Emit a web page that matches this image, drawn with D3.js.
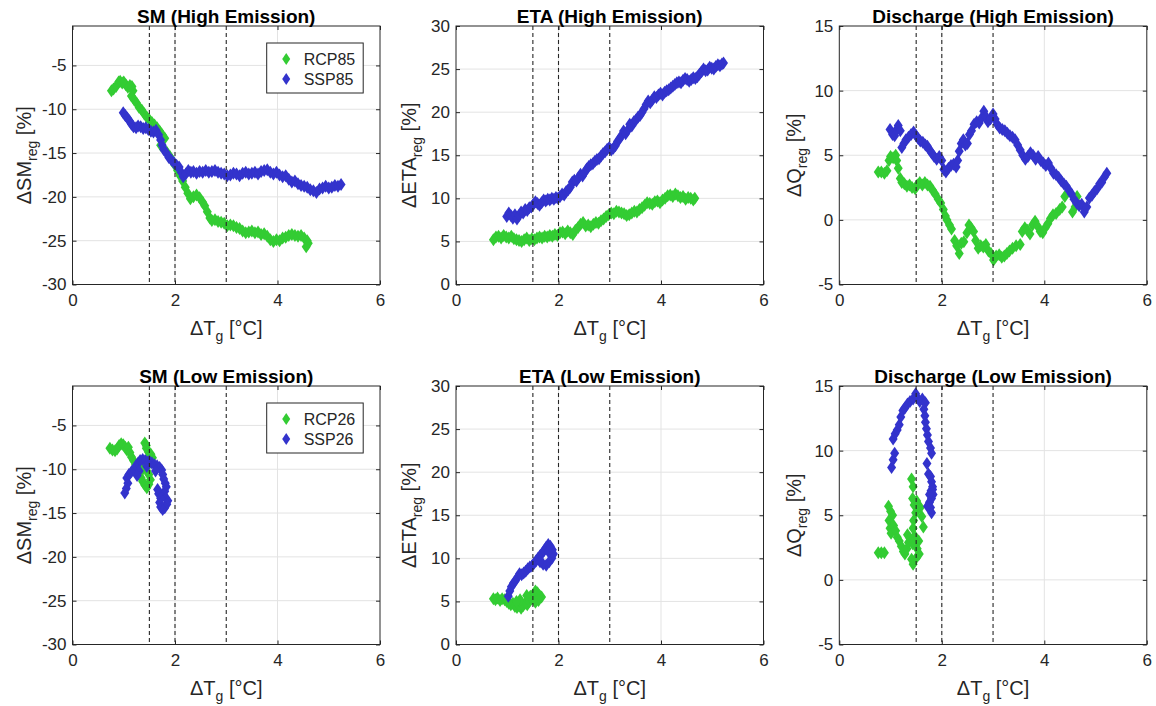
<!DOCTYPE html>
<html><head><meta charset="utf-8">
<script src="https://cdn.jsdelivr.net/npm/d3@7"></script>
<style>body{margin:0;background:#fff} text{font-family:"Liberation Sans",Arial,Helvetica,sans-serif;fill:#262626}</style>
</head><body><svg id="c" width="1156" height="706"></svg>
<script>
// ---------- tick labels / reference lines ----------
const xTicks = [0, 2, 4, 6];
const refLines = [1.5, 2, 3];
const smTicks = [-30, -25, -20, -15, -10, -5];
const etaTicks = [0, 5, 10, 15, 20, 25, 30];
const qTicks = [-5, 0, 5, 10, 15];
const legendHigh = ["RCP85", "SSP85"];
const legendLow = ["RCP26", "SSP26"];
const titles = ["SM (High Emission)", "ETA (High Emission)", "Discharge (High Emission)",
                "SM (Low Emission)", "ETA (Low Emission)", "Discharge (Low Emission)"];

// ---------- series: [ΔTg, value] ----------
const smRCP85 = [[0.76,-7.9],[0.80,-7.7],[0.85,-7.4],[0.90,-6.9],[0.93,-6.8],[0.97,-7.0],[1.00,-6.9],[1.04,-7.2],[1.08,-7.5],[1.12,-7.3],[1.16,-7.4],[1.18,-7.9],[1.15,-8.5],[1.20,-8.9],[1.25,-9.3],[1.30,-9.8],[1.35,-10.1],[1.40,-10.5],[1.45,-10.9],[1.50,-11.2],[1.55,-11.5],[1.60,-11.8],[1.65,-12.1],[1.70,-12.5],[1.75,-12.9],[1.80,-13.3],[1.72,-14.1],[1.78,-14.5],[1.84,-14.9],[1.90,-15.4],[1.95,-15.9],[2.00,-16.4],[2.05,-17.0],[2.10,-17.6],[2.15,-18.2],[2.20,-18.9],[2.25,-19.6],[2.30,-20.2],[2.36,-20.0],[2.42,-19.8],[2.48,-20.1],[2.54,-20.6],[2.58,-21.0],[2.63,-21.7],[2.68,-22.4],[2.72,-22.7],[2.78,-22.6],[2.84,-22.8],[2.90,-22.9],[2.96,-23.0],[3.02,-23.3],[3.08,-23.2],[3.14,-23.3],[3.20,-23.5],[3.26,-23.6],[3.32,-23.9],[3.38,-24.1],[3.44,-24.0],[3.50,-23.9],[3.56,-24.1],[3.62,-24.0],[3.68,-24.3],[3.74,-24.2],[3.80,-24.5],[3.86,-24.9],[3.92,-25.1],[3.98,-24.9],[4.04,-25.0],[4.10,-24.7],[4.16,-24.6],[4.22,-24.4],[4.28,-24.3],[4.34,-24.4],[4.40,-24.5],[4.46,-24.4],[4.52,-24.7],[4.58,-25.0],[4.60,-25.3],[4.56,-25.7]];
const smSSP85 = [[0.99,-10.4],[1.03,-10.7],[1.07,-11.0],[1.11,-11.3],[1.15,-11.7],[1.19,-12.0],[1.24,-12.1],[1.28,-11.9],[1.33,-12.0],[1.38,-12.2],[1.43,-12.1],[1.48,-12.3],[1.53,-12.5],[1.58,-12.6],[1.63,-12.4],[1.68,-12.9],[1.72,-13.5],[1.75,-14.1],[1.78,-14.6],[1.83,-15.0],[1.88,-15.5],[1.93,-15.8],[1.98,-16.1],[2.03,-16.4],[2.08,-16.6],[2.12,-17.2],[2.16,-17.7],[2.21,-17.4],[2.26,-17.0],[2.31,-17.2],[2.36,-17.1],[2.42,-17.3],[2.48,-17.1],[2.54,-17.2],[2.60,-17.0],[2.66,-17.2],[2.72,-17.1],[2.78,-17.0],[2.84,-17.2],[2.90,-17.3],[2.96,-17.4],[3.02,-17.6],[3.08,-17.5],[3.14,-17.3],[3.20,-17.4],[3.26,-17.6],[3.32,-17.3],[3.38,-17.2],[3.44,-17.4],[3.50,-17.3],[3.56,-17.2],[3.62,-17.4],[3.68,-17.1],[3.74,-17.0],[3.80,-16.9],[3.86,-17.2],[3.92,-17.4],[3.98,-17.2],[4.04,-17.5],[4.10,-17.7],[4.16,-17.6],[4.22,-18.0],[4.28,-18.3],[4.34,-18.2],[4.40,-18.5],[4.46,-18.7],[4.52,-18.8],[4.58,-18.9],[4.64,-19.2],[4.70,-19.3],[4.76,-19.5],[4.82,-19.1],[4.88,-19.0],[4.94,-18.8],[5.00,-19.0],[5.06,-18.9],[5.12,-18.7],[5.18,-18.8],[5.24,-18.6]];
const etaRCP85 = [[0.73,5.2],[0.78,5.5],[0.83,5.6],[0.88,5.4],[0.93,5.7],[0.98,5.5],[1.03,5.4],[1.08,5.6],[1.13,5.3],[1.18,5.2],[1.23,5.1],[1.28,5.0],[1.33,5.2],[1.38,5.4],[1.43,5.1],[1.48,5.3],[1.53,5.2],[1.58,5.4],[1.63,5.5],[1.68,5.4],[1.73,5.6],[1.78,5.5],[1.83,5.7],[1.88,5.6],[1.93,5.8],[1.98,5.7],[2.03,6.0],[2.08,6.1],[2.13,5.9],[2.18,6.2],[2.23,6.0],[2.28,5.8],[2.33,6.3],[2.38,6.6],[2.43,7.0],[2.48,7.2],[2.53,6.8],[2.58,6.9],[2.63,6.7],[2.68,7.0],[2.73,7.2],[2.78,7.1],[2.83,7.4],[2.88,7.6],[2.93,7.9],[2.98,8.1],[3.03,8.3],[3.08,8.2],[3.13,8.5],[3.18,8.4],[3.23,8.3],[3.28,8.2],[3.33,8.0],[3.38,8.1],[3.43,8.3],[3.48,8.5],[3.53,8.4],[3.58,8.7],[3.63,8.9],[3.68,9.2],[3.73,9.5],[3.78,9.4],[3.83,9.3],[3.88,9.6],[3.93,9.7],[3.98,9.5],[4.03,9.8],[4.08,10.0],[4.13,10.3],[4.18,10.4],[4.23,10.2],[4.28,10.5],[4.33,10.3],[4.38,10.1],[4.43,10.2],[4.48,9.9],[4.53,10.1],[4.58,10.0],[4.63,9.8],[4.66,10.0]];
const etaSSP85 = [[0.99,7.9],[1.03,8.3],[1.07,8.0],[1.11,7.7],[1.15,8.1],[1.19,7.6],[1.23,8.0],[1.27,8.4],[1.31,8.3],[1.35,8.7],[1.39,8.6],[1.43,8.9],[1.47,9.0],[1.51,9.3],[1.55,9.6],[1.59,9.4],[1.63,9.2],[1.67,9.5],[1.71,9.8],[1.75,9.7],[1.79,9.9],[1.83,9.8],[1.87,10.0],[1.91,9.9],[1.95,10.1],[1.99,10.0],[2.03,10.2],[2.07,10.5],[2.11,10.4],[2.15,10.8],[2.19,11.0],[2.23,11.3],[2.27,11.9],[2.31,12.1],[2.35,12.0],[2.39,12.4],[2.43,12.8],[2.47,12.6],[2.51,13.0],[2.55,13.4],[2.59,13.7],[2.63,13.9],[2.67,14.0],[2.71,14.3],[2.75,14.5],[2.79,14.6],[2.83,14.9],[2.87,15.2],[2.91,15.4],[2.95,15.7],[2.99,15.9],[3.03,15.6],[3.07,15.8],[3.11,16.1],[3.15,16.6],[3.19,16.9],[3.23,17.3],[3.27,17.8],[3.31,17.5],[3.35,17.9],[3.39,18.6],[3.43,18.4],[3.47,18.9],[3.51,19.1],[3.55,19.4],[3.59,19.6],[3.63,20.0],[3.67,20.4],[3.71,20.9],[3.75,21.3],[3.79,21.1],[3.83,21.4],[3.87,21.8],[3.91,21.7],[3.95,22.0],[3.99,22.2],[4.03,22.0],[4.07,22.3],[4.11,22.5],[4.15,22.6],[4.19,22.8],[4.23,23.0],[4.27,23.2],[4.31,23.4],[4.35,23.5],[4.39,23.4],[4.43,23.7],[4.47,23.9],[4.51,23.8],[4.55,23.6],[4.59,23.8],[4.63,24.0],[4.67,23.9],[4.71,24.1],[4.75,24.4],[4.79,24.7],[4.83,25.0],[4.87,24.8],[4.91,24.9],[4.95,25.2],[4.99,25.1],[5.03,25.0],[5.07,25.3],[5.11,25.5],[5.15,25.4],[5.19,25.6],[5.22,25.7]];
const qRCP85 = [[0.76,3.7],[0.82,3.7],[0.88,3.6],[0.93,3.8],[0.97,4.6],[1.00,4.9],[1.05,4.8],[1.10,5.0],[1.12,4.6],[1.15,4.0],[1.19,3.2],[1.22,2.9],[1.27,2.8],[1.32,2.6],[1.37,2.7],[1.42,2.5],[1.48,2.4],[1.52,2.7],[1.57,2.9],[1.62,2.7],[1.67,2.9],[1.72,2.7],[1.77,2.6],[1.82,2.3],[1.87,2.0],[1.93,1.6],[1.98,1.3],[2.03,0.8],[2.07,0.3],[2.10,0.0],[2.15,-0.4],[2.19,-0.7],[2.25,-1.6],[2.29,-2.0],[2.34,-2.6],[2.38,-1.8],[2.43,-1.7],[2.49,-1.0],[2.53,-0.4],[2.57,-0.6],[2.62,-0.9],[2.66,-1.6],[2.71,-2.2],[2.76,-2.0],[2.81,-2.1],[2.86,-1.9],[2.91,-2.4],[2.96,-2.6],[3.01,-3.1],[3.06,-2.8],[3.12,-2.7],[3.17,-2.9],[3.22,-2.8],[3.27,-2.6],[3.32,-2.4],[3.38,-2.2],[3.45,-2.0],[3.53,-1.9],[3.57,-0.9],[3.62,-0.6],[3.67,-0.8],[3.72,-1.1],[3.77,-0.4],[3.82,-0.1],[3.87,-0.5],[3.92,-0.9],[3.97,-1.0],[4.02,-0.6],[4.07,-0.3],[4.12,0.1],[4.17,0.4],[4.23,0.5],[4.30,0.8],[4.35,1.0],[4.40,1.8],[4.55,0.6],[4.60,1.0],[4.64,1.8]];
const qSSP85 = [[0.99,7.0],[1.04,6.6],[1.08,6.5],[1.12,7.0],[1.15,7.3],[1.19,6.9],[1.22,5.6],[1.26,5.9],[1.30,6.2],[1.35,6.4],[1.40,6.6],[1.45,6.8],[1.50,6.5],[1.54,6.3],[1.58,6.1],[1.63,6.0],[1.68,5.8],[1.72,5.7],[1.76,5.4],[1.80,5.2],[1.85,4.9],[1.90,4.7],[1.95,4.9],[2.00,4.6],[2.04,3.9],[2.08,3.7],[2.13,4.0],[2.18,4.2],[2.23,4.3],[2.28,4.1],[2.31,4.6],[2.34,5.3],[2.38,5.9],[2.42,6.2],[2.46,5.8],[2.50,5.9],[2.54,6.6],[2.58,6.9],[2.63,7.4],[2.68,7.6],[2.73,7.5],[2.78,7.9],[2.82,8.4],[2.86,8.0],[2.90,7.6],[2.95,7.8],[3.00,8.2],[3.04,7.8],[3.08,7.4],[3.13,7.1],[3.18,7.0],[3.23,6.9],[3.28,6.7],[3.33,6.5],[3.38,6.4],[3.43,6.2],[3.48,5.8],[3.53,5.4],[3.58,5.0],[3.63,4.7],[3.68,4.9],[3.73,5.2],[3.78,5.0],[3.83,4.7],[3.88,4.9],[3.93,4.6],[3.98,4.4],[4.03,4.2],[4.08,4.4],[4.13,4.0],[4.18,3.6],[4.23,3.5],[4.28,3.3],[4.33,3.0],[4.38,2.8],[4.43,2.6],[4.48,2.3],[4.53,2.0],[4.58,1.6],[4.63,1.3],[4.68,1.1],[4.73,1.2],[4.78,0.6],[4.83,1.0],[4.88,1.7],[4.93,1.9],[4.98,2.2],[5.03,2.4],[5.08,2.8],[5.12,2.9],[5.17,3.3],[5.22,3.6]];
const smRCP26 = [[0.73,-7.6],[0.78,-7.8],[0.83,-7.9],[0.87,-7.7],[0.91,-7.3],[0.95,-7.1],[0.99,-7.2],[1.03,-7.5],[1.06,-7.8],[1.09,-7.5],[1.12,-8.1],[1.15,-8.6],[1.19,-9.0],[1.23,-9.5],[1.27,-10.1],[1.31,-10.5],[1.34,-11.0],[1.37,-11.4],[1.41,-11.8],[1.45,-12.1],[1.49,-11.7],[1.52,-11.2],[1.49,-10.6],[1.45,-10.2],[1.47,-9.6],[1.52,-9.0],[1.56,-8.7],[1.53,-8.3],[1.48,-8.0],[1.44,-7.6],[1.41,-7.0],[1.44,-7.3],[1.50,-8.5],[1.40,-9.3],[1.36,-10.0],[1.32,-10.3]];
const smSSP26 = [[1.02,-12.7],[1.05,-12.2],[1.08,-11.6],[1.06,-11.0],[1.10,-10.6],[1.15,-10.3],[1.20,-10.0],[1.24,-9.6],[1.28,-9.3],[1.32,-9.0],[1.37,-8.9],[1.42,-9.0],[1.46,-9.2],[1.50,-9.1],[1.55,-9.3],[1.60,-9.5],[1.65,-9.6],[1.70,-9.8],[1.74,-10.1],[1.76,-10.6],[1.78,-11.1],[1.81,-11.6],[1.83,-12.0],[1.80,-12.5],[1.78,-12.9],[1.82,-13.3],[1.86,-13.6],[1.84,-14.0],[1.80,-14.4],[1.76,-14.6],[1.72,-14.3],[1.70,-13.8],[1.72,-13.3],[1.68,-12.8],[1.66,-12.3],[1.62,-10.2],[1.30,-10.2],[1.26,-10.7],[1.45,-9.7]];
const etaRCP26 = [[0.73,5.3],[0.77,5.2],[0.81,5.4],[0.86,5.1],[0.90,5.3],[0.95,5.2],[0.99,5.0],[1.03,4.8],[1.07,4.6],[1.11,4.8],[1.15,4.4],[1.19,4.3],[1.23,4.5],[1.27,4.2],[1.31,4.5],[1.35,4.8],[1.39,4.6],[1.43,5.0],[1.47,5.3],[1.51,5.8],[1.55,6.2],[1.59,6.0],[1.63,5.7],[1.67,5.5],[1.61,5.1],[1.55,4.9],[1.45,5.6],[1.38,5.7],[1.25,5.2],[1.18,5.0]];
const etaSSP26 = [[1.02,5.6],[1.05,6.2],[1.08,6.7],[1.12,7.1],[1.16,7.4],[1.20,7.8],[1.24,8.2],[1.28,8.1],[1.32,8.3],[1.36,8.5],[1.40,8.8],[1.44,9.0],[1.48,9.1],[1.52,9.4],[1.56,9.7],[1.60,10.0],[1.64,10.3],[1.68,10.6],[1.72,10.9],[1.76,11.3],[1.80,11.6],[1.84,11.4],[1.88,11.0],[1.90,10.5],[1.87,10.0],[1.82,9.6],[1.76,9.2],[1.70,9.3],[1.64,9.6],[1.80,10.8]];
const qRCP26 = [[0.76,2.1],[0.82,2.1],[0.88,2.1],[0.96,5.7],[1.00,5.3],[1.04,5.0],[0.97,4.6],[0.99,4.0],[1.01,3.6],[1.06,4.2],[1.10,3.8],[1.13,3.3],[1.17,3.0],[1.21,2.6],[1.25,2.2],[1.28,2.0],[1.32,2.4],[1.35,2.9],[1.33,3.5],[1.38,3.2],[1.41,7.8],[1.44,7.2],[1.43,6.3],[1.46,5.8],[1.49,5.2],[1.45,4.6],[1.44,4.0],[1.47,3.4],[1.43,2.8],[1.41,1.6],[1.44,1.2],[1.50,1.7],[1.56,2.0],[1.58,5.6],[1.61,4.9],[1.64,4.1],[1.55,3.0],[1.51,6.1],[1.52,2.4]];
const qSSP26 = [[1.02,8.7],[1.05,9.3],[1.08,9.8],[1.05,10.9],[1.09,11.3],[1.13,11.6],[1.17,12.0],[1.20,12.6],[1.24,13.1],[1.28,13.3],[1.33,13.6],[1.38,13.8],[1.44,14.0],[1.49,14.4],[1.52,14.1],[1.57,13.8],[1.62,14.0],[1.68,13.7],[1.65,13.2],[1.67,12.7],[1.68,12.2],[1.70,11.7],[1.72,11.2],[1.74,10.7],[1.78,10.2],[1.80,9.8],[1.71,9.0],[1.74,8.2],[1.78,8.0],[1.80,7.6],[1.82,7.2],[1.79,6.9],[1.83,6.6],[1.80,6.3],[1.76,6.0],[1.78,5.6],[1.80,5.2],[1.82,7.0],[1.76,6.6],[1.72,5.7]];

// ---------- layout ----------
const COLORS = ["#33cc33", "#3333cc"];
const colLeft = [72.5, 456, 839.3], colW = 307.5;
const rowTop = [26, 386], rowH = 258.5;
const ylabBase = [30.5, 416, 801];

const yCfg = [
  {domain: [-30, -0.5], ticks: smTicks, label: "ΔSM"},
  {domain: [0, 30], ticks: etaTicks, label: "ΔETA"},
  {domain: [-5, 15], ticks: qTicks, label: "ΔQ"}
];
const seriesByPanel = [
  [smRCP85, smSSP85], [etaRCP85, etaSSP85], [qRCP85, qSSP85],
  [smRCP26, smSSP26], [etaRCP26, etaSSP26], [qRCP26, qSSP26]
];

const svg = d3.select("#c");
svg.append("rect").attr("width", 1156).attr("height", 706).attr("fill", "#fff");

const diamond = "M0,-6.5L4.5,0L0,6.5L-4.5,0Z";
const legDiamond = "M0,-6L4,0L0,6L-4,0Z";
const fmt = d => String(d);

seriesByPanel.forEach((series, i) => {
  const row = Math.floor(i / 3), col = i % 3;
  const L = colLeft[col], T = rowTop[row], W = colW, H = rowH;
  const cfg = yCfg[col];
  const x = d3.scaleLinear().domain([0, 6]).range([L, L + W]);
  const y = d3.scaleLinear().domain(cfg.domain).range([T + H, T]);
  const g = svg.append("g");

  // grid
  g.selectAll(".gy").data(cfg.ticks.filter(t => t > cfg.domain[0] && t < cfg.domain[1]))
    .enter().append("line").attr("x1", L).attr("x2", L + W)
    .attr("y1", d => y(d)).attr("y2", d => y(d)).attr("stroke", "#e3e3e3").attr("stroke-width", 1);
  g.selectAll(".gx").data(xTicks.filter(t => t > 0 && t < 6))
    .enter().append("line").attr("y1", T).attr("y2", T + H)
    .attr("x1", d => x(d)).attr("x2", d => x(d)).attr("stroke", "#e3e3e3").attr("stroke-width", 1);

  // markers
  series.forEach((s, k) => {
    g.selectAll(null).data(s).enter().append("path")
      .attr("d", diamond)
      .attr("transform", d => `translate(${x(d[0])},${y(d[1])})`)
      .attr("fill", COLORS[k]);
  });

  // reference dashed lines
  g.selectAll(".rl").data(refLines).enter().append("line")
    .attr("y1", T).attr("y2", T + H)
    .attr("x1", d => x(d)).attr("x2", d => x(d))
    .attr("stroke", "#262626").attr("stroke-width", 1.1).attr("stroke-dasharray", "4,3");

  // axes via d3 axis (ticks inward)
  const axB = d3.axisBottom(x).tickValues(xTicks).tickSizeInner(-4).tickSizeOuter(0).tickPadding(9).tickFormat(fmt);
  const axT = d3.axisTop(x).tickValues(xTicks).tickSizeInner(-4).tickSizeOuter(0).tickFormat("");
  const axL = d3.axisLeft(y).tickValues(cfg.ticks).tickSizeInner(-4).tickSizeOuter(0).tickPadding(6).tickFormat(fmt);
  const axR = d3.axisRight(y).tickValues(cfg.ticks).tickSizeInner(-4).tickSizeOuter(0).tickFormat("");
  const styleAx = sel => {
    sel.attr("font-size", null).attr("font-family", null);
    sel.select(".domain").remove();
    sel.selectAll(".tick line").attr("stroke", "#262626");
    sel.selectAll(".tick text").attr("fill", "#262626").style("font-size", "17px").style("font-family", "'Liberation Sans', Arial, sans-serif");
  };
  g.append("g").attr("transform", `translate(0,${T + H})`).call(axB).call(styleAx);
  g.append("g").attr("transform", `translate(0,${T})`).call(axT).call(styleAx);
  g.append("g").attr("transform", `translate(${L},0)`).call(axL).call(styleAx);
  g.append("g").attr("transform", `translate(${L + W},0)`).call(axR).call(styleAx);

  // box
  g.append("rect").attr("x", L).attr("y", T).attr("width", W).attr("height", H)
    .attr("fill", "none").attr("stroke", "#262626").attr("stroke-width", 1);

  // title
  g.append("text").attr("x", L + W / 2).attr("y", T - 3).attr("text-anchor", "middle")
    .style("font-size", "19px").style("font-weight", "bold").style("fill", "#000").text(titles[i]);

  // x label
  const xl = g.append("text").attr("x", L + W / 2).attr("y", T + H + 50).attr("text-anchor", "middle").style("font-size", "20px");
  xl.append("tspan").text("ΔT");
  xl.append("tspan").attr("dy", 6).style("font-size", "14px").text("g");
  xl.append("tspan").attr("dy", -6).text(" [°C]");

  // y label
  const yl = g.append("text").attr("transform", `translate(${ylabBase[col]},${T + H / 2}) rotate(-90)`)
    .attr("text-anchor", "middle").style("font-size", "20px");
  yl.append("tspan").text(cfg.label);
  yl.append("tspan").attr("dy", 6).style("font-size", "14px").text("reg");
  yl.append("tspan").attr("dy", -6).text(" [%]");

  // legend (SM panels only)
  if (col === 0) {
    const names = row === 0 ? legendHigh : legendLow;
    const lx = 266.7, ly = T + 17;
    const lg = g.append("g");
    lg.append("rect").attr("x", lx).attr("y", ly).attr("width", 96.5).attr("height", 50)
      .attr("fill", "#fff").attr("stroke", "#262626").attr("stroke-width", 1);
    names.forEach((n, k) => {
      lg.append("path").attr("d", legDiamond).attr("transform", `translate(${lx + 19.5},${ly + 16 + k * 20})`).attr("fill", COLORS[k]);
      lg.append("text").attr("x", lx + 37).attr("y", ly + 16 + k * 20).attr("dy", "0.36em")
        .style("font-size", "16px").text(n);
    });
  }
});
</script></body></html>
